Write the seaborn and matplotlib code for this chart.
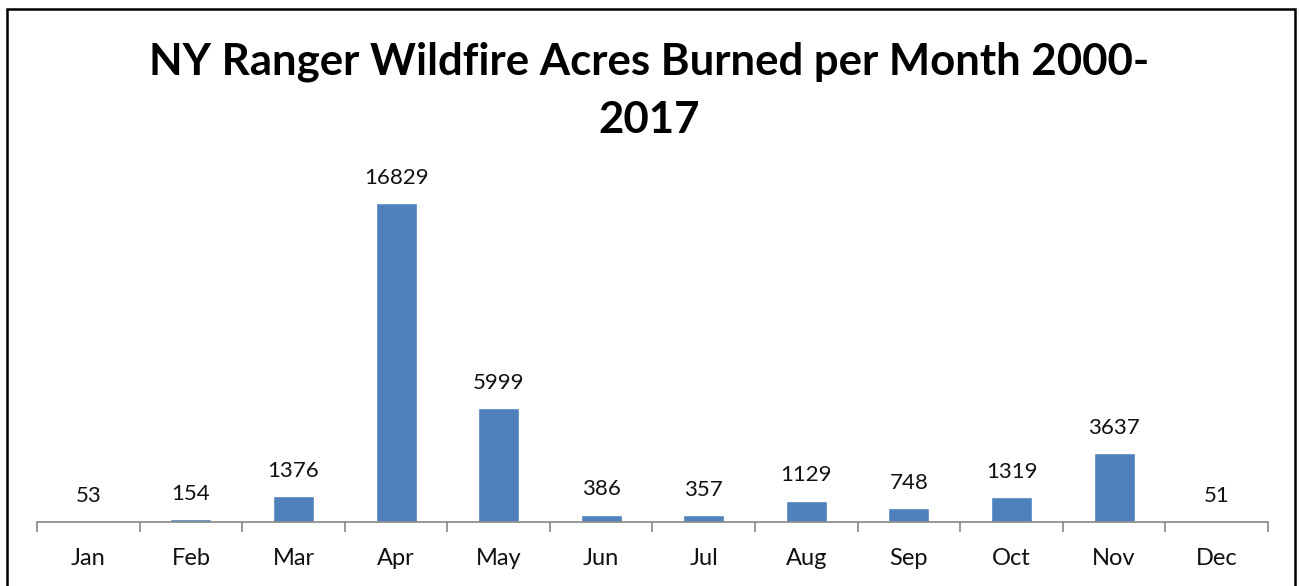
import pandas as pd
import seaborn as sns
import matplotlib.pyplot as plt
from matplotlib.patches import Rectangle

months = ['Jan', 'Feb', 'Mar', 'Apr', 'May', 'Jun',
          'Jul', 'Aug', 'Sep', 'Oct', 'Nov', 'Dec']
acres = [53, 154, 1376, 16829, 5999, 386, 357, 1129, 748, 1319, 3637, 51]

df = pd.DataFrame({'month': months, 'acres': acres})

sns.set_theme(style='white')
plt.rcParams['font.family'] = ['Lato', 'DejaVu Sans']

W, H = 1299, 586
fig = plt.figure(figsize=(W / 100, H / 100), dpi=100)
ax = fig.add_axes([37 / W, 64 / H, (1268 - 37) / W, (522 - 181) / H])

sns.barplot(data=df, x='month', y='acres', color='#4F81BD', width=0.4,
            saturation=1, ax=ax)
ax.bar_label(ax.containers[0], labels=[str(v) for v in acres],
             padding=11, fontsize=16, color='#111111')

ax.set_xlim(-0.5, 11.5)
ax.set_ylim(0, 18000)
ax.set_yticks([])
ax.set_xlabel('')
ax.set_ylabel('')
for s in ['top', 'right', 'left']:
    ax.spines[s].set_visible(False)
ax.spines['bottom'].set_color('#868686')
ax.spines['bottom'].set_linewidth(1.2)

ax.set_xticks(range(12))
ax.set_xticklabels(months, fontsize=17, color='#111111')
ax.tick_params(axis='x', which='major', length=0, pad=19)
ax.set_xticks([i - 0.5 for i in range(13)], minor=True)
ax.tick_params(axis='x', which='minor', length=7, width=1.2,
               color='#868686', bottom=True)

fig.text(0.5, 1 - 62 / H, 'NY Ranger Wildfire Acres Burned per Month 2000-',
         ha='center', va='center', fontsize=31.5, fontweight='bold',
         color='black')
fig.text(0.5, 1 - 120 / H, '2017', ha='center', va='center',
         fontsize=31.5, fontweight='bold', color='black')

fig.patches.append(Rectangle((7 / W, -0.05), (1295 - 7) / W, 1.05 - 8.5 / H,
                             transform=fig.transFigure, fill=False,
                             edgecolor='black', linewidth=1.8))

fig.savefig('out.png', dpi=100)
